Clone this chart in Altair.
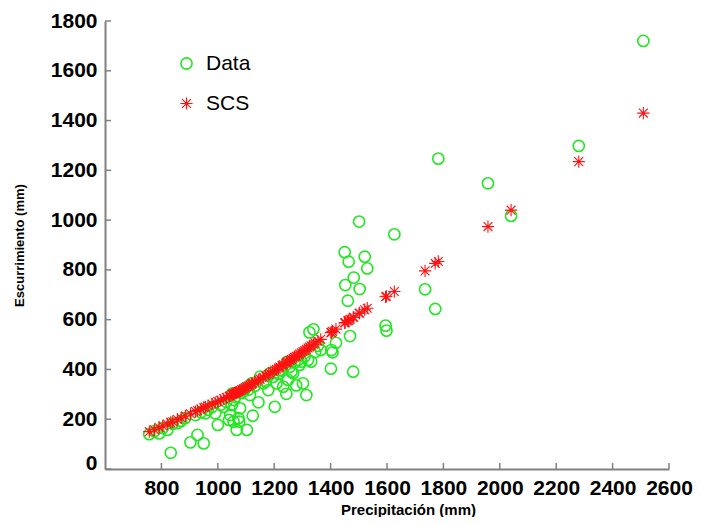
import altair as alt
import pandas as pd

# Precipitation (mm)
P = [757, 775, 792, 805, 821, 833, 840, 857, 870, 885, 903, 921, 928, 940, 950, 956, 965, 980, 991,
     1000, 1010, 1021, 1030, 1040, 1044, 1050, 1052, 1056, 1058, 1062, 1067, 1073, 1076, 1079, 1085,
     1091, 1097, 1103, 1108, 1114, 1120, 1124, 1132, 1144, 1150, 1161, 1170, 1179, 1185, 1195, 1202,
     1208, 1215, 1220, 1228, 1232, 1243, 1245, 1249, 1255, 1261, 1267, 1272, 1278, 1285, 1290, 1296,
     1302, 1308, 1314, 1320, 1325, 1331, 1339, 1345, 1355, 1365, 1401, 1403, 1407, 1419, 1452, 1450,
     1461, 1464, 1469, 1480, 1482, 1501, 1503, 1521, 1530, 1595, 1598, 1626, 1735, 1771, 1782, 1958,
     2040, 2280, 2509]
# Observed runoff (mm)
Q_data = [140, 152, 143, 165, 157, 65, 182, 184, 193, 205, 107, 217, 137, 228, 103, 224, 238, 250, 224,
          177, 258, 250, 270, 197, 217, 257, 304, 190, 277, 290, 157, 204, 190, 244, 305,
          311, 324, 157, 318, 297, 344, 214, 335, 268, 371, 344, 352, 317, 385, 370, 250,
          344, 382, 398, 395, 331, 302, 430, 358, 410, 391, 385, 428, 336, 438, 418, 431,
          344, 452, 297, 438, 549, 431, 561, 470, 495, 478, 403, 478, 469, 507, 739, 871,
          676, 833, 534, 391, 769, 994, 723, 853, 806, 576, 556, 943, 722, 643, 1247, 1148,
          1017, 1298, 1720]
# SCS modelled runoff (mm)
Q_scs = [150, 158, 167, 173, 181, 187, 190, 199, 205, 213, 222, 231, 235, 241, 246, 249, 254, 261, 267,
         271, 276, 282, 287, 292, 294, 299, 300, 302, 303, 305, 308, 311, 313, 315, 318,
         322, 326, 330, 333, 337, 341, 344, 349, 357, 361, 368, 374, 381, 385, 392, 397,
         401, 406, 410, 416, 419, 427, 428, 431, 436, 440, 445, 449, 453, 458, 462, 467,
         472, 476, 481, 486, 490, 495, 501, 506, 513, 521, 548, 549, 553, 562, 588, 587,
         595, 597, 601, 609, 610, 625, 627, 640, 646, 692, 694, 713, 796, 826, 834, 974,
         1040, 1235, 1430]

series_names = ["Data", "SCS"]
x_ticks = [800, 1000, 1200, 1400, 1600, 1800, 2000, 2200, 2400, 2600]
y_ticks = [0, 200, 400, 600, 800, 1000, 1200, 1400, 1600, 1800]

df = pd.concat([
    pd.DataFrame({"P": P, "Q": Q_data, "serie": series_names[0]}),
    pd.DataFrame({"P": P, "Q": Q_scs, "serie": series_names[1]}),
], ignore_index=True)

W, H = 564, 448
FONT = "Liberation Sans"
AXIS_GRAY = "#808080"
ASTERISK = "M0,-1L0,1M-1,0L1,0M-0.72,-0.72L0.72,0.72M-0.72,0.72L0.72,-0.72"

xscale = alt.Scale(domain=[600, 2600], nice=False, zero=False)
yscale = alt.Scale(domain=[0, 1800], nice=False)

xaxis = alt.Axis(
    values=x_ticks, format="d", title="Precipitación (mm)", grid=False, ticks=False,
    labelFont=FONT, labelFontSize=21, labelFontWeight="bold", labelColor="black",
    labelPadding=8, labelFlush=False, labelOverlap=False,
    titleFont=FONT, titleFontSize=15, titleFontWeight="bold", titleColor="black",
    titleX=303, titleY=40, titleBaseline="middle",
    domainColor=AXIS_GRAY, domainWidth=2,
)
yaxis = alt.Axis(
    values=y_ticks, format="d", title="Escurrimiento (mm)", grid=False, ticks=False,
    labelFont=FONT, labelFontSize=21, labelFontWeight="bold", labelColor="black",
    labelPadding=8, labelFlush=False, labelOverlap=False,
    labelBaseline={"condition": {"test": "datum.value === 0", "value": "alphabetic"}, "value": "middle"},
    titleFont=FONT, titleFontSize=13, titleFontWeight="bold", titleColor="black",
    titlePadding=24,
    domainColor=AXIS_GRAY, domainWidth=2,
)

points = alt.Chart(df).mark_point(filled=False, opacity=1, strokeWidth=1.6).encode(
    x=alt.X("P:Q", scale=xscale, axis=xaxis),
    y=alt.Y("Q:Q", scale=yscale, axis=yaxis),
    color=alt.Color("serie:N", scale=alt.Scale(domain=series_names, range=["#22e622", "#ff1111"]),
                    legend=alt.Legend(title=None, orient="none", legendX=71, legendY=32,
                                      labelFont=FONT, labelFontSize=21, labelColor="black",
                                      labelOffset=9, rowPadding=18, padding=0,
                                      symbolSize=100, symbolStrokeWidth=1.4)),
    shape=alt.Shape("serie:N", scale=alt.Scale(domain=series_names, range=["circle", ASTERISK])),
    size=alt.Size("serie:N", scale=alt.Scale(domain=series_names, range=[125, 150]), legend=None),
    strokeWidth=alt.StrokeWidth("serie:N", scale=alt.Scale(domain=series_names, range=[1.6, 1.1]), legend=None),
    order=alt.Order("serie:N"),
)

xt = alt.Chart(pd.DataFrame({"P": x_ticks})).mark_rule(color=AXIS_GRAY, strokeWidth=1.5).encode(
    x=alt.X("P:Q", scale=xscale, axis=xaxis),
    y=alt.value(H), y2=alt.value(H - 6),
)
yt = alt.Chart(pd.DataFrame({"Q": y_ticks})).mark_rule(color=AXIS_GRAY, strokeWidth=1.5).encode(
    y=alt.Y("Q:Q", scale=yscale, axis=yaxis),
    x=alt.value(0), x2=alt.value(6),
)

chart = alt.layer(xt, yt, points).properties(
    width=W, height=H,
    autosize=alt.AutoSizeParams(type="none"),
    padding={"left": 97, "top": 13, "right": 24, "bottom": 48},
    background="white",
).configure_view(stroke=None)

chart.save("out.html", embed_options={"renderer": "svg", "actions": False})
